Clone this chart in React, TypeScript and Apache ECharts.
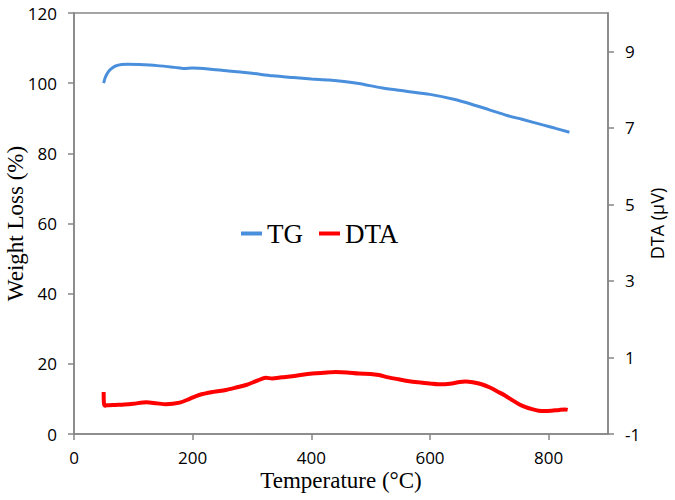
import React, { useEffect, useRef } from "react";
import * as echarts from "echarts";

const xTicks = [0, 200, 400, 600, 800];
const rightTicks = [-1, 1, 3, 5, 7, 9];

// TG: [temperature °C, weight %]
const tgData: [number, number][] = [
  [50, 100.0], [52, 101.3], [55, 102.5], [60, 103.7], [65, 104.4], [70, 104.9],
  [80, 105.3], [90, 105.4], [110, 105.3], [140, 105.0], [170, 104.5], [185, 104.2],
  [200, 104.3], [230, 104.0], [260, 103.5], [300, 102.8], [335, 102.1], [370, 101.6],
  [400, 101.2], [430, 100.9], [455, 100.5], [480, 99.9], [520, 98.6], [560, 97.7],
  [600, 96.8], [640, 95.4], [670, 94.0], [700, 92.4], [730, 90.8], [755, 89.7],
  [790, 88.1], [810, 87.2], [835, 86.0],
];

// DTA: [temperature °C, µV]
const dtaData: [number, number][] = [
  [50, 0.1], [50.5, -0.2], [52, -0.26], [55, -0.25], [70, -0.24], [85, -0.23],
  [100, -0.21], [122, -0.17], [140, -0.2], [155, -0.22], [178, -0.18], [195, -0.08],
  [211, 0.02], [235, 0.1], [256, 0.15], [275, 0.22], [290, 0.28], [310, 0.4],
  [323, 0.47], [334, 0.45], [350, 0.48], [368, 0.51], [385, 0.55], [402, 0.58],
  [420, 0.6], [441, 0.62], [460, 0.61], [480, 0.58], [500, 0.57], [514, 0.54],
  [530, 0.48], [547, 0.43], [565, 0.38], [581, 0.35], [600, 0.32], [614, 0.3],
  [625, 0.3], [637, 0.32], [650, 0.36], [660, 0.37], [672, 0.35], [687, 0.3],
  [700, 0.22], [715, 0.1], [727, 0.0], [738, -0.11], [750, -0.22], [760, -0.29],
  [772, -0.35], [783, -0.39], [795, -0.4], [805, -0.39], [818, -0.37], [828, -0.36],
  [832, -0.37],
];

const AXIS_COLOR = "#868686";
const SANS = "Open Sans";
const SERIF = "Liberation Serif";

export default function App() {
  const ref = useRef<HTMLDivElement>(null);
  useEffect(() => {
    if (!ref.current) return;
    const chart = echarts.init(ref.current, null, { renderer: "svg" });
    chart.setOption({
      animation: false,
      backgroundColor: "#ffffff",
      grid: {
        left: 74,
        right: 67,
        top: 13,
        bottom: 66,
        containLabel: false,
        outerBoundsMode: "none",
        show: true,
        borderColor: AXIS_COLOR,
        borderWidth: 1.5,
      },
      legend: {
        left: 241,
        top: 220,
        padding: 0,
        icon: "rect",
        itemWidth: 21,
        itemHeight: 4,
        itemGap: 16,
        textStyle: { fontFamily: SERIF, fontSize: 27, color: "#000" },
        data: ["TG", "DTA"],
      },
      xAxis: {
        type: "value",
        min: 0,
        max: 900,
        interval: 200,
        name: "Temperature (°C)",
        nameLocation: "middle",
        nameGap: 35,
        nameMoveOverlap: false,
        nameTextStyle: { fontFamily: SERIF, fontSize: 23, color: "#000" },
        axisLine: { show: true, lineStyle: { color: AXIS_COLOR, width: 1.5 } },
        axisTick: { show: true, length: 6, lineStyle: { color: AXIS_COLOR, width: 1.5 }, customValues: xTicks },
        axisLabel: { customValues: xTicks, fontFamily: SANS, fontSize: 17, color: "#000", margin: 15 },
        splitLine: { show: false },
      },
      yAxis: [
        {
          type: "value",
          min: 0,
          max: 120,
          interval: 20,
          position: "left",
          name: "Weight Loss (%)",
          nameLocation: "middle",
          nameGap: 47,
          nameMoveOverlap: false,
          nameTextStyle: { fontFamily: SERIF, fontSize: 23, color: "#000" },
          axisLine: { show: true, lineStyle: { color: AXIS_COLOR, width: 1.5 } },
          axisTick: { show: true, length: 6, lineStyle: { color: AXIS_COLOR, width: 1.5 } },
          axisLabel: { fontFamily: SANS, fontSize: 17, color: "#000", margin: 17 },
          splitLine: { show: false },
        },
        {
          type: "value",
          min: -1,
          max: 10,
          interval: 2,
          position: "right",
          name: "DTA (µV)",
          nameLocation: "middle",
          nameGap: 40,
          nameRotate: 90,
          nameMoveOverlap: false,
          nameTextStyle: { fontFamily: SANS, fontSize: 18, color: "#000" },
          axisLine: { show: true, lineStyle: { color: AXIS_COLOR, width: 1.5 } },
          axisTick: { show: true, length: 6, lineStyle: { color: AXIS_COLOR, width: 1.5 }, customValues: rightTicks },
          axisLabel: { customValues: rightTicks, fontFamily: SANS, fontSize: 17, color: "#000", margin: 17 },
          splitLine: { show: false },
        },
      ],
      series: [
        {
          name: "TG",
          type: "line",
          yAxisIndex: 0,
          data: tgData,
          showSymbol: false,
          smooth: 0.3,
          lineStyle: { color: "#4a8fdc", width: 3 },
          itemStyle: { color: "#4a8fdc" },
        },
        {
          name: "DTA",
          type: "line",
          yAxisIndex: 1,
          data: dtaData,
          showSymbol: false,
          smooth: 0.3,
          lineStyle: { color: "#ff0000", width: 4 },
          itemStyle: { color: "#ff0000" },
        },
      ],
    });
    return () => chart.dispose();
  }, []);
  return <div ref={ref} style={{ width: 675, height: 500, position: "absolute", left: 0, top: 0 }} />;
}
